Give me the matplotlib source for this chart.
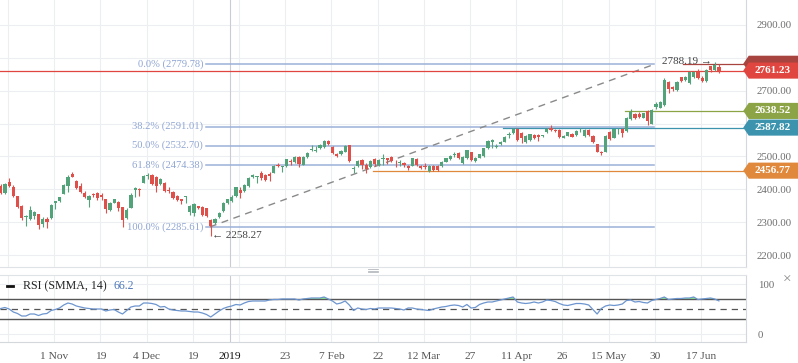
import numpy as np
import matplotlib.pyplot as plt
from matplotlib.patches import Polygon
from matplotlib.lines import Line2D

plt.rcParams['font.family'] = ['Liberation Serif', 'DejaVu Sans']

# daily OHLC (one bar per trading day, mid Oct 2018 - 21 Jun 2019)
opens = [2410, 2390, 2421, 2408, 2379, 2349, 2316, 2309, 2320, 2324,
         2294, 2310, 2312, 2357, 2364, 2387, 2410, 2447, 2425, 2410,
         2388, 2367, 2385, 2388, 2383, 2369, 2337, 2359, 2362, 2345,
         2312, 2344, 2398, 2402, 2420, 2442, 2444, 2436, 2416, 2418,
         2398, 2392, 2380, 2370, 2377, 2330, 2328, 2348, 2347, 2342,
         2306, 2298, 2315, 2335, 2357, 2365, 2380, 2398, 2396, 2410,
         2438, 2437, 2451, 2443, 2446, 2451, 2475, 2467, 2471, 2486,
         2484, 2499, 2475, 2497, 2520, 2518, 2525, 2530, 2548, 2530,
         2506, 2507, 2515, 2534, 2461, 2471, 2489, 2474, 2469, 2491,
         2474, 2493, 2494, 2499, 2487, 2479, 2481, 2472, 2472, 2492,
         2472, 2470, 2456, 2472, 2470, 2472, 2484, 2492, 2505, 2509,
         2479, 2496, 2512, 2486, 2496, 2501, 2525, 2545, 2530, 2537,
         2545, 2566, 2570, 2583, 2570, 2543, 2550, 2565, 2565, 2562,
         2575, 2587, 2581, 2580, 2557, 2563, 2568, 2565, 2582, 2562,
         2580, 2563, 2537, 2515, 2515, 2575, 2557, 2576, 2585, 2577,
         2615, 2628, 2628, 2618, 2638, 2600, 2651, 2648, 2657, 2728,
         2712, 2702, 2741, 2733, 2722, 2743, 2758, 2740, 2730, 2774,
         2763, 2773]
highs = [2415, 2420, 2433, 2412, 2381, 2351, 2322, 2349, 2334, 2326,
         2317, 2317, 2354, 2365, 2378, 2417, 2443, 2454, 2428, 2418,
         2395, 2382, 2390, 2392, 2390, 2372, 2362, 2372, 2365, 2347,
         2342, 2388, 2408, 2404, 2443, 2449, 2448, 2440, 2434, 2422,
         2406, 2395, 2382, 2372, 2380, 2353, 2358, 2350, 2349, 2344,
         2310, 2314, 2330, 2362, 2372, 2382, 2408, 2408, 2415, 2436,
         2446, 2439, 2457, 2446, 2452, 2474, 2481, 2470, 2493, 2492,
         2500, 2501, 2500, 2514, 2535, 2532, 2538, 2550, 2550, 2533,
         2509, 2521, 2536, 2535, 2471, 2489, 2492, 2479, 2488, 2494,
         2492, 2506, 2496, 2502, 2489, 2489, 2484, 2475, 2496, 2495,
         2474, 2479, 2474, 2475, 2473, 2486, 2496, 2504, 2512, 2512,
         2501, 2521, 2515, 2498, 2508, 2527, 2549, 2552, 2537, 2547,
         2563, 2575, 2588, 2587, 2575, 2566, 2569, 2568, 2567, 2565,
         2586, 2597, 2584, 2584, 2566, 2575, 2571, 2579, 2588, 2582,
         2583, 2566, 2539, 2517, 2565, 2578, 2585, 2588, 2588, 2620,
         2645, 2632, 2634, 2633, 2640, 2644, 2666, 2670, 2738, 2730,
         2715, 2730, 2743, 2746, 2760, 2759, 2766, 2745, 2765, 2776,
         2788.19, 2780]
lows = [2385, 2387, 2408, 2378, 2343, 2307, 2288, 2307, 2310, 2278,
        2286, 2281, 2310, 2339, 2362, 2385, 2392, 2436, 2400, 2388,
        2374, 2347, 2378, 2368, 2368, 2327, 2335, 2357, 2334, 2284,
        2309, 2342, 2378, 2381, 2418, 2430, 2413, 2393, 2412, 2393,
        2388, 2370, 2365, 2354, 2357, 2322, 2320, 2340, 2320, 2316,
        2258.27, 2295, 2312, 2332, 2355, 2362, 2378, 2374, 2393, 2408,
        2433, 2420, 2428, 2425, 2425, 2449, 2469, 2454, 2469, 2474,
        2481, 2469, 2473, 2494, 2518, 2515, 2522, 2525, 2535, 2506,
        2497, 2504, 2512, 2484, 2449, 2468, 2461, 2449, 2466, 2472,
        2471, 2474, 2476, 2484, 2469, 2472, 2469, 2459, 2470, 2470,
        2462, 2462, 2453, 2456, 2456, 2469, 2482, 2490, 2499, 2493,
        2476, 2493, 2486, 2482, 2494, 2499, 2523, 2525, 2525, 2535,
        2543, 2557, 2567, 2547, 2540, 2541, 2548, 2552, 2547, 2559,
        2571, 2577, 2574, 2557, 2555, 2561, 2558, 2563, 2573, 2560,
        2562, 2542, 2512, 2504, 2512, 2550, 2555, 2567, 2560, 2575,
        2612, 2613, 2616, 2616, 2596, 2598, 2645, 2647, 2652, 2692,
        2698, 2700, 2728, 2731, 2720, 2738, 2736, 2725, 2725, 2757,
        2761, 2753]
closes = [2388, 2416, 2411, 2381, 2345, 2312, 2319, 2337, 2332, 2291,
          2311, 2301, 2352, 2363, 2376, 2414, 2438, 2438, 2403, 2393,
          2376, 2380, 2382, 2373, 2378, 2340, 2359, 2369, 2342, 2307,
          2337, 2383, 2403, 2398, 2440, 2445, 2415, 2410, 2430, 2396,
          2394, 2373, 2368, 2364, 2379, 2350, 2356, 2344, 2322, 2318,
          2289, 2311, 2327, 2357, 2369, 2377, 2406, 2390, 2413, 2433,
          2443, 2438, 2433, 2428, 2439, 2472, 2471, 2469, 2491, 2482,
          2497, 2477, 2497, 2511, 2522, 2520, 2535, 2547, 2538, 2510,
          2501, 2517, 2533, 2487, 2463, 2486, 2474, 2461, 2486, 2476,
          2489, 2495, 2489, 2487, 2485, 2484, 2474, 2464, 2494, 2474,
          2466, 2467, 2472, 2459, 2459, 2484, 2494, 2502, 2507, 2496,
          2499, 2519, 2489, 2496, 2506, 2525, 2547, 2550, 2532, 2545,
          2560, 2568, 2585, 2550, 2557, 2563, 2567, 2555, 2560, 2563,
          2583, 2580, 2577, 2560, 2563, 2573, 2560, 2577, 2584, 2580,
          2565, 2545, 2515, 2509, 2562, 2553, 2583, 2578, 2570, 2618,
          2636, 2616, 2621, 2631, 2608, 2641, 2661, 2666, 2733, 2705,
          2705, 2727, 2730, 2743, 2758, 2756, 2738, 2730, 2763, 2764,
          2778, 2761.23]

rsi = [51, 53, 50, 44, 41, 36, 36, 40, 40, 37,
       40, 41, 47, 49, 52, 58, 62, 60, 56, 54,
       52, 51, 50, 50, 50, 46, 48, 49, 44, 40,
       47, 54, 56, 56, 62, 62, 61, 59, 54, 55,
       50, 48, 47, 46, 46, 45, 44, 44, 42, 39,
       34, 40, 46, 51, 54, 56, 59, 58, 62, 65,
       66, 66, 66, 66, 68, 69, 69, 70, 70, 70,
       70, 68, 70, 71, 72, 72, 72, 74, 70, 66,
       60, 62, 66, 58, 47, 52, 50, 49, 51, 50,
       52, 52, 52, 52, 51, 50, 48, 52, 52, 50,
       49, 48, 47, 50, 52, 54, 55, 57, 58, 57,
       54, 59, 52, 53, 59, 62, 64, 64, 66, 68,
       70, 72, 74, 64, 62, 61, 62, 64, 62, 64,
       68, 67, 65, 61, 58, 57, 59, 61, 61, 60,
       58, 49, 40, 51, 56, 58, 57, 58, 60, 67,
       68, 64, 65, 63, 62, 67, 69, 71, 74, 69,
       70, 71, 71, 72, 72, 74, 69, 70, 71, 72,
       70, 66.2]

date_labels = ['1 Nov', '19', '4 Dec', '19', '2019', '23', '7 Feb', '22',
               '12 Mar', '27', '11 Apr', '26', '15 May', '30', '17 Jun']
date_pos = [12.75, 23.75, 34.75, 45.75, 54.6, 67.75, 78.75, 89.75,
            100.75, 111.75, 122.75, 133.75, 144.75, 155.75, 166.75]

# price axis labels that are not hidden behind the price tags
price_ticks = [2200, 2300, 2400, 2500, 2700, 2900]

fib_names = ['0.0%', '38.2%', '50.0%', '61.8%', '100.0%']
fib_vals = [2779.78, 2591.01, 2532.70, 2474.38, 2285.61]

# the first tag sits behind the 2761.23 tag, its value is not readable
level_vals = [2782.0, 2761.23, 2638.52, 2587.82, 2456.77]
level_text = ['', '2761.23', '2638.52', '2587.82', '2456.77']
level_start = [162.5, -1.0, 148.6, 119.6, 88.6]
level_colors = ['#a8443f', '#e0463f', '#8da446', '#3b93ad', '#e0893c']

W, H = 798, 363
fig = plt.figure(figsize=(W / 100, H / 100), dpi=100)
ax = fig.add_axes([0, 1 - 267 / H, 745.5 / W, 267 / H])
ax2 = fig.add_axes([0, 1 - 342 / H, 745.5 / W, 67 / H])

n = len(closes)
x = np.arange(n)
xmin, xmax = -0.17, 177.33
grid_x = 1.75 + 11 * np.arange(16)
gridc = '#eceef2'

for a in (ax, ax2):
    a.set_xlim(xmin, xmax)
    for g in grid_x:
        a.axvline(g, color=gridc, lw=0.8, zorder=0)
    a.axvline(54.6, color='#c9cdd3', lw=0.8, zorder=0.5)
    for s in ('left', 'top'):
        a.spines[s].set_visible(False)
    a.spines['right'].set_color('#d4d7dc')
    a.spines['bottom'].set_color('#dfe2e6')

# ---- price panel
ax.set_ylim(2163.6, 2976)
for yv in range(2200, 3000, 100):
    ax.axhline(yv, color=gridc, lw=0.8, zorder=0)
ax.yaxis.tick_right()
ax.set_yticks(price_ticks)
ax.set_yticklabels(['%.2f' % v for v in price_ticks])
ax.tick_params(axis='y', length=0, pad=8, labelsize=7.8, colors='#6e6e6e')
ax.set_xticks([])

o = np.array(opens); c = np.array(closes)
up = c >= o
cols = np.where(up, '#52a37a', '#df504b')
body_lo = np.minimum(o, c)
body_h = np.maximum(np.abs(c - o), 2.5)
ax.vlines(x, lows, highs, colors=cols, lw=0.8, zorder=3)
ax.bar(x, body_h, bottom=body_lo, width=0.76, color=cols, lw=0, zorder=3)

# fibonacci retracement
for name, v in zip(fib_names, fib_vals):
    ax.plot([48.9, 155.5], [v, v], color='#9bb0d9', lw=1.1, zorder=2)
    ax.text(48.2, v, '%s (%.2f)' % (name, v), ha='right', va='center',
            fontsize=7.6, color='#8fa5d3', zorder=4)
ax.plot([49.8, 155.5], [fib_vals[-1], fib_vals[0]], color='#8a8a8a', lw=1,
        ls=(0, (5, 4)), zorder=2)

# horizontal levels with price tags
half = 24.5
for k, (v, t, s, col) in enumerate(zip(level_vals, level_text, level_start,
                                       level_colors)):
    ax.plot([s, xmax], [v, v], color=col, lw=0.9, zorder=2.6)
    z = 5 if k == 0 else 6
    poly = Polygon([(176.8, v), (178.1, v + half), (191, v + half),
                    (191, v - half), (178.1, v - half)], closed=True,
                   fc=col, ec='none', clip_on=False, zorder=z)
    ax.add_patch(poly)
    if t:
        ax.text(183.7, v, t, ha='center', va='center', fontsize=8,
                fontweight='bold', color='white', clip_on=False, zorder=z)

ax.text(50.3, 2258.27, '\u2190 2258.27', ha='left', va='center',
        fontsize=8, color='#444444', zorder=4)
ax.text(169.3, 2788.19, '2788.19 \u2192', ha='right', va='center',
        fontsize=8, color='#444444', zorder=4)

# ---- RSI panel
r = np.array(rsi, dtype=float)
ax2.set_ylim(-16, 118)
ax2.spines['top'].set_visible(True)
ax2.spines['top'].set_color('#dfe2e6')
ax2.spines['bottom'].set_color('#d4d7dc')
for yv in (0, 100):
    ax2.axhline(yv, color=gridc, lw=0.8, zorder=0)
ax2.axhline(70, color='#555555', lw=1, zorder=1)
ax2.axhline(30, color='#555555', lw=1, zorder=1)
ax2.axhline(50, color='#555555', lw=0.9, ls=(0, (5, 4)), zorder=1)
ax2.fill_between(x, r, 70, where=r > 70, interpolate=True,
                 color='#86d886', lw=0, zorder=2)
ax2.plot(x, r, color='#6d95cf', lw=0.9, zorder=3)
ax2.yaxis.tick_right()
ax2.set_yticks([0, 100])
ax2.set_yticklabels(['0', '100'])
ax2.tick_params(axis='y', length=0, pad=9, labelsize=7.8, colors='#6e6e6e')
ax2.set_xticks(date_pos)
ax2.set_xticklabels(date_labels)
ax2.tick_params(axis='x', length=0, pad=7, labelsize=8.2, colors='#555555')
for lab in ax2.get_xticklabels():
    if lab.get_text() == '2019':
        lab.set_color('#111111')

fig.add_artist(Line2D([7 / W, 13 / W], [1 - 286 / H] * 2, color='#111111',
                      lw=2, transform=fig.transFigure))
fig.text(23 / W, 1 - 286 / H, 'RSI (SMMA, 14)', ha='left', va='center',
         fontsize=8.6, color='#222222')
fig.text(113 / W, 1 - 286 / H, '%.1f' % rsi[-1], ha='left', va='center',
         fontsize=8.6, color='#4f78bb')
fig.text(787 / W, 1 - 280 / H, '\u00d7', ha='center', va='center',
         fontsize=11, color='#8a8a8a')
for yy in (269.2, 270.8, 272.4):
    fig.add_artist(Line2D([368 / W, 378 / W], [1 - yy / H] * 2,
                          color='#b3b7bd', lw=0.6, transform=fig.transFigure))

fig.savefig('out.png', dpi=100)
